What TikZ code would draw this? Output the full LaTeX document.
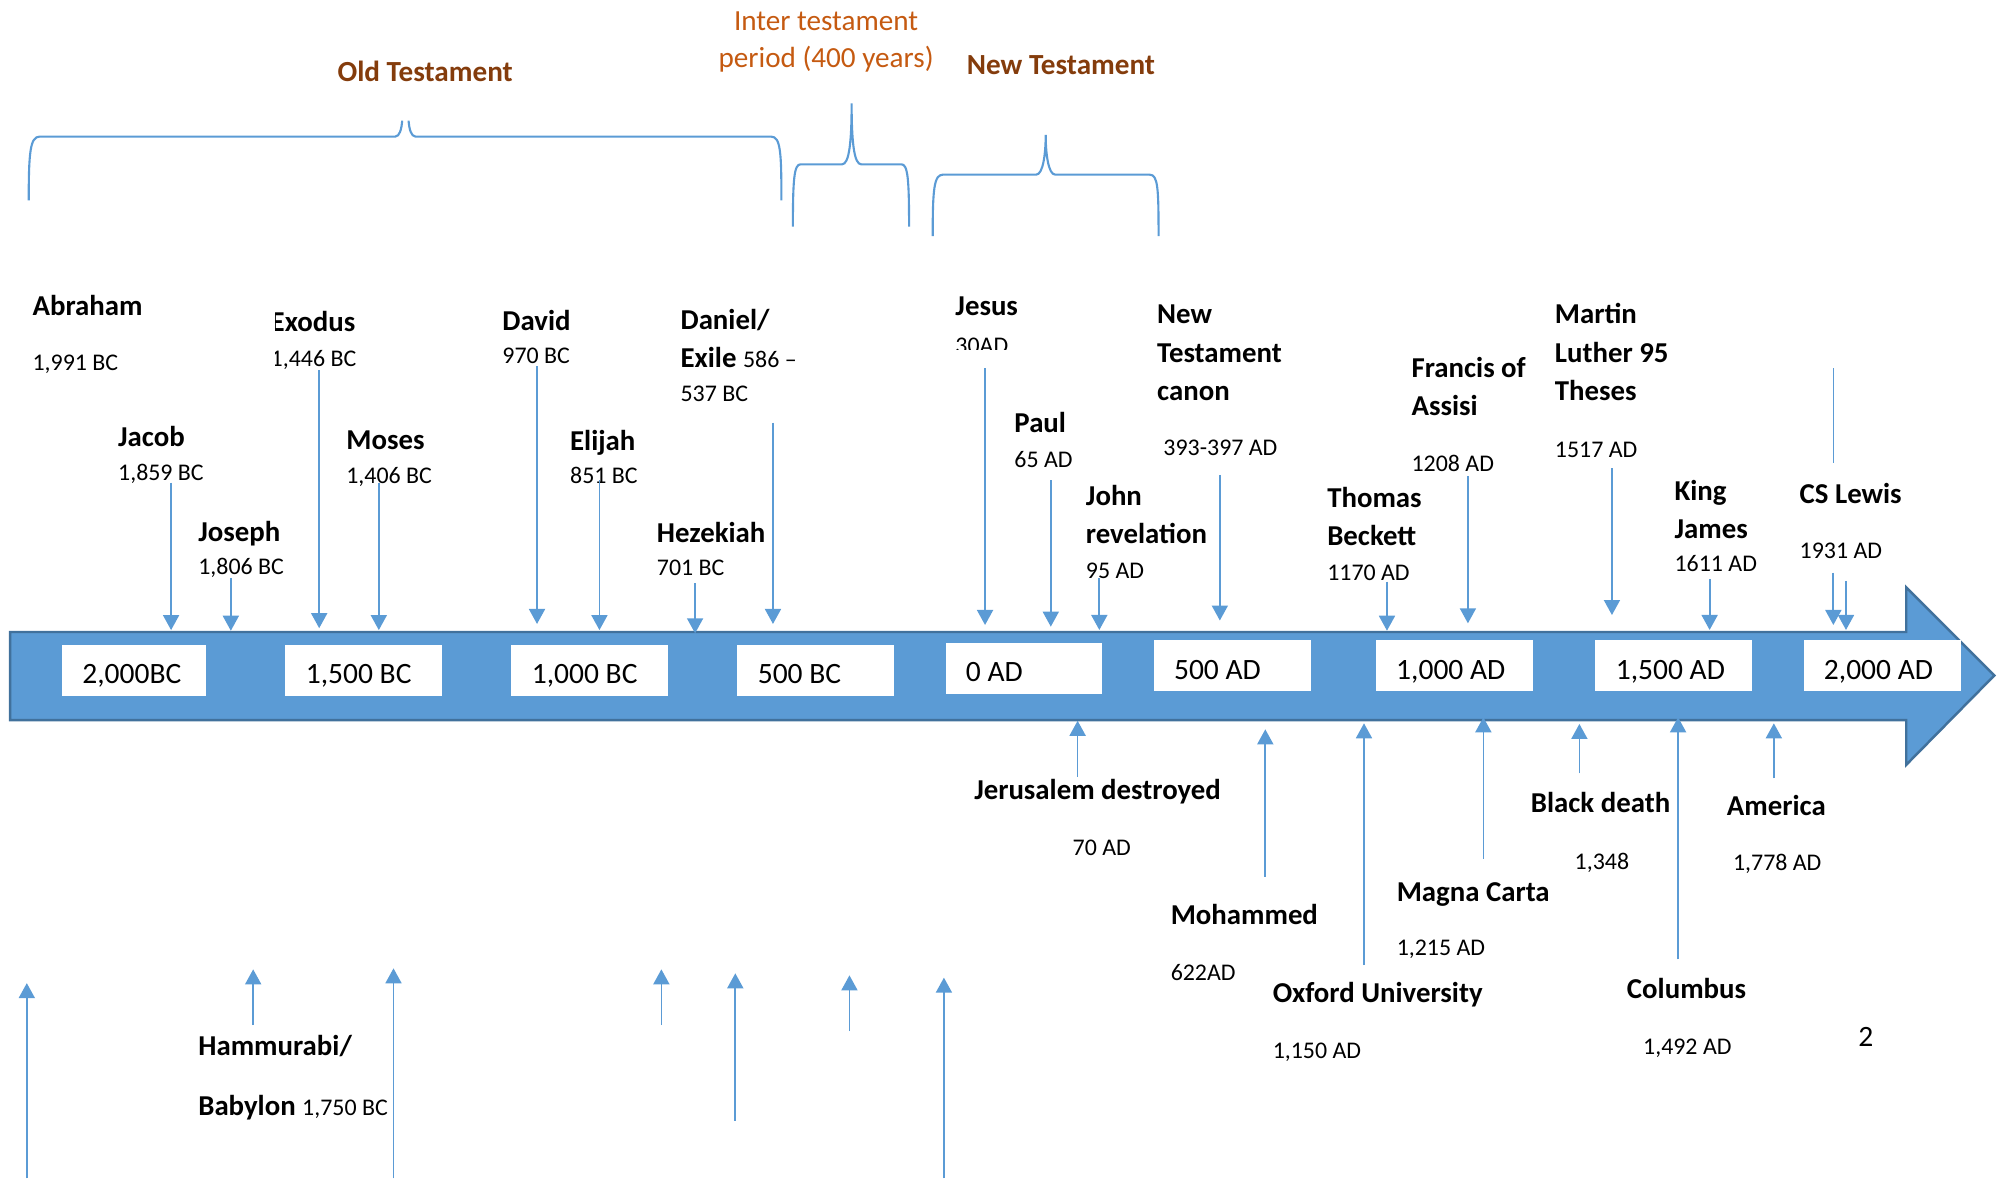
\documentclass[tikz,border=0pt]{standalone}
\usepackage{fontspec}
\setmainfont{Carlito}
\usepackage{tikz}
\usetikzlibrary{arrows.meta}
\usepackage{xcolor}
\definecolor{ColBar}{RGB}{91,155,213}
\definecolor{ColBarEdge}{RGB}{65,113,156}
\definecolor{ColOld}{RGB}{132,60,12}
\definecolor{ColInter}{RGB}{197,90,17}
\newcommand{\SmallDate}{\fontsize{6.8}{9}\selectfont\mdseries}
\tikzstyle{NodeName}=[anchor=base west,inner sep=0pt,text width=3cm,align=flush left,
font=\fontsize{8.2}{10.9}\selectfont\bfseries]
\tikzstyle{NodeDate}=[anchor=base west,inner sep=0pt,font=\fontsize{6.8}{9}\selectfont]
\tikzstyle{NodeYear}=[anchor=north west,fill=white,inner xsep=0.204cm,inner ysep=0pt,
minimum height=0.511cm,text width=1.162cm,align=flush left,text height=7.6pt,text depth=0pt,
font=\fontsize{8.4}{10}\selectfont]
\tikzstyle{NodeTitle}=[anchor=base,inner sep=0pt,text=ColOld,font=\fontsize{8.3}{10}\selectfont\bfseries]
\tikzstyle{EdgeArrow}=[ColBar,line width=0.5pt,-{Triangle[length=1.5mm,width=1.6mm]}]
\tikzstyle{EdgeLine}=[ColBar,line width=0.5pt]
\tikzstyle{EdgeBrace}=[ColBar,line width=0.6pt]
\begin{document}
\begin{tikzpicture}[x=0.012768cm,y=-0.012768cm]
        \useasboundingbox(0,0)rectangle(1568,923);
        % headings and braces
        \node[NodeTitle](oldt)at(333,64){Old Testament};
        \node[NodeTitle](newt)at(831,58.7){New Testament};
        \node[anchor=base,inner sep=0pt,text width=3cm,align=flush center,text=ColInter,
            font=\fontsize{8.3}{10.6}\selectfont](inter)at(647,23.5){Inter testament\\period (400 years)};
        \draw[EdgeBrace](22.5,157)..controls(22.5,120)and(23.5,107)..(31,107)--(309.5,107)
            ..controls(313,107)and(314.5,101)..(315,94.5);
        \draw[EdgeBrace](320,94.5)..controls(320.5,101)and(322,107)..(325.5,107)--(604,107)
            ..controls(611.5,107)and(612,120)..(612,157);
        \draw[EdgeBrace](621,177.5)..controls(621,140)and(622,128.7)..(627,128.7)--(659.5,128.7)
            ..controls(665,128.7)and(667,112)..(667,81)..controls(667,112)and(669,128.7)..(674.5,128.7)
            --(706,128.7)..controls(711,128.7)and(712,140)..(712,177.5);
        \draw[EdgeBrace](730.5,185)..controls(730.5,148)and(731.5,136.8)..(738.5,136.8)--(811.5,136.8)
            ..controls(817,136.8)and(819,120)..(819,105.7)..controls(819,120)and(821,136.8)..(826.5,136.8)
            --(900.5,136.8)..controls(907,136.8)and(907.4,148)..(907.4,185);
        % timeline bar
        \draw[ColBarEdge,line width=0.7pt,fill=ColBar](8,495)--(1493,495)--(1493,460)--(1562,529)
            --(1493,599)--(1493,564)--(8,564)--cycle;
        \node[NodeYear,text width=1.035cm](y2000bc)at(48,504.4){2,000BC};
        \node[NodeYear](y1500bc)at(223,504.4){1,500 BC};
        \node[NodeYear](y1000bc)at(400,504.4){1,000 BC};
        \node[NodeYear](y500bc)at(577,504.4){500 BC};
        \node[NodeYear](y0ad)at(740,503){0 AD};
        \node[NodeYear](y500ad)at(903,501){500 AD};
        \node[NodeYear](y1000ad)at(1077,501){1,000 AD};
        \node[NodeYear](y1500ad)at(1249,501){1,500 AD};
        \node[NodeYear](y2000ad)at(1412,501){2,000 AD};
        % events above
        \node[NodeName](abraham)at(25,247){Abraham};
        \node[NodeDate](abrahamd)at(25,290){1,991 BC};
        \begin{scope}
            \clip(215.5,235)rectangle(320,296);
            \node[NodeName](exodus)at(211.5,260){Exodus};
            \node[NodeDate](exodusd)at(211.5,287){1,446 BC};
        \end{scope}
        \node[NodeName](david)at(393,258.5){David};
        \node[NodeDate](davidd)at(393,285){970 BC};
        \node[NodeName](daniel)at(532.5,258){Daniel/\\Exile {\SmallDate 586 –}\\[-1.3pt]{\SmallDate 537 BC}};
        \node[NodeName](jesus)at(747.8,247){Jesus};
        \begin{scope}
            \clip(740,255)rectangle(800,274);
            \node[NodeDate](jesusd)at(747.8,277){30AD};
        \end{scope}
        \node[NodeName](jacob)at(92,350){Jacob};
        \node[NodeDate](jacobd)at(92,376.6){1,859 BC};
        \node[NodeName](moses)at(270.7,352){Moses};
        \node[NodeDate](mosesd)at(270.7,379){1,406 BC};
        \node[NodeName](elijah)at(446,353){Elijah};
        \node[NodeDate](elijahd)at(446,379){851 BC};
        \node[NodeName](joseph)at(154.8,424){Joseph};
        \node[NodeDate](josephd)at(154.8,450){1,806 BC};
        \node[NodeName](hezekiah)at(514,425){Hezekiah};
        \node[NodeDate](hezekiahd)at(514,451){701 BC};
        \node[NodeName](paul)at(794,338.4){Paul};
        \node[NodeDate](pauld)at(794,366){65 AD};
        \node[NodeName](john)at(850,396){John\\revelation};
        \node[NodeDate](johnd)at(850,453){95 AD};
        \node[NodeName](canon)at(905.8,253.7){New\\Testament\\canon};
        \node[NodeDate](canond)at(910.7,356.6){393-397 AD};
        \node[NodeName](francis)at(1105,295.5){Francis of\\Assisi};
        \node[NodeDate](francisd)at(1105,369.5){1208 AD};
        \node[NodeName](martin)at(1217.3,253.7){Martin\\Luther 95\\Theses};
        \node[NodeDate](martind)at(1217.3,358){1517 AD};
        \node[NodeName](thomas)at(1039,397.3){Thomas\\Beckett};
        \node[NodeDate](thomasd)at(1039,454.5){1170 AD};
        \node[NodeName](king)at(1311,392){King\\James};
        \node[NodeDate](kingd)at(1311,447.7){1611 AD};
        \node[NodeName](lewis)at(1409,394){CS Lewis};
        \node[NodeDate](lewisd)at(1409,437.6){1931 AD};
        % events below
        \node[NodeName](jerusalem)at(762.5,626.3){Jerusalem destroyed};
        \node[NodeDate](jerusalemd)at(839.6,670.4){70 AD};
        \node[NodeName](mohammed)at(916.4,724.4){Mohammed};
        \node[NodeDate](mohammedd)at(916.4,767.8){622AD};
        \node[NodeName](oxford)at(996.3,785.5){Oxford University};
        \node[NodeDate](oxfordd)at(996.3,828.9){1,150 AD};
        \node[NodeName](magna)at(1093.4,705.9){Magna Carta};
        \node[NodeDate](magnad)at(1093.4,748.7){1,215 AD};
        \node[NodeName](black)at(1198.5,636.7){Black death};
        \node[NodeDate](blackd)at(1232.8,680.9){1,348};
        \node[NodeName](columbus)at(1273.7,782.4){Columbus};
        \node[NodeDate](columbusd)at(1286.4,825.8){1,492 AD};
        \node[NodeName](america)at(1352,638.8){America};
        \node[NodeDate](americad)at(1356.8,681.7){1,778 AD};
        \node[NodeName](hammurabi)at(154.8,826.8){Hammurabi/\\[6.2pt]Babylon {\SmallDate 1,750 BC}};
        \node[anchor=base west,inner sep=0pt,font=\fontsize{8.4}{10}\selectfont](pagenum)at(1455,820){2};
        % arrows down
        \coordinate(jacobA)at(134,378);\coordinate(jacobB)at(134,493.5);\draw[EdgeArrow](jacobA)--(jacobB);
        \coordinate(josephA)at(180.8,452.8);\coordinate(josephB)at(180.8,494);\draw[EdgeArrow](josephA)--(josephB);
        \coordinate(exodusA)at(250,290);\coordinate(exodusB)at(250,492);\draw[EdgeArrow](exodusA)--(exodusB);
        \coordinate(mosesA)at(296.7,378);\coordinate(mosesB)at(296.7,493.5);\draw[EdgeArrow](mosesA)--(mosesB);
        \coordinate(davidA)at(420.6,287);\coordinate(davidB)at(420.6,488.7);\draw[EdgeArrow](davidA)--(davidB);
        \coordinate(elijahA)at(469.5,376);\coordinate(elijahB)at(469.5,493.5);\draw[EdgeArrow](elijahA)--(elijahB);
        \coordinate(hezekiahA)at(544.4,456.8);\coordinate(hezekiahB)at(544.4,496);\draw[EdgeArrow](hezekiahA)--(hezekiahB);
        \coordinate(danielA)at(605.4,331);\coordinate(danielB)at(605.4,488.7);\draw[EdgeArrow](danielA)--(danielB);
        \coordinate(jesusA)at(771.5,288.3);\coordinate(jesusB)at(771.5,489.5);\draw[EdgeArrow](jesusA)--(jesusB);
        \coordinate(paulA)at(823,376);\coordinate(paulB)at(823,490.8);\draw[EdgeArrow](paulA)--(paulB);
        \coordinate(johnA)at(861,452.7);\coordinate(johnB)at(861,493.4);\draw[EdgeArrow](johnA)--(johnB);
        \coordinate(canonA)at(955.4,372);\coordinate(canonB)at(955.4,486);\draw[EdgeArrow](canonA)--(canonB);
        \coordinate(thomasA)at(1086.3,455.6);\coordinate(thomasB)at(1086.3,494);\draw[EdgeArrow](thomasA)--(thomasB);
        \coordinate(francisA)at(1149.7,373);\coordinate(francisB)at(1149.7,488.2);\draw[EdgeArrow](francisA)--(francisB);
        \coordinate(martinA)at(1262.5,366.8);\coordinate(martinB)at(1262.5,481.7);\draw[EdgeArrow](martinA)--(martinB);
        \coordinate(kingA)at(1339,453.7);\coordinate(kingB)at(1339,493.4);\draw[EdgeArrow](kingA)--(kingB);
        \coordinate(lewisA)at(1435.9,448.5);\coordinate(lewisB)at(1435.9,489.5);\draw[EdgeArrow](lewisA)--(lewisB);
        \coordinate(lewisC)at(1445.8,455);\coordinate(lewisD)at(1445.8,493.4);\draw[EdgeArrow](lewisC)--(lewisD);
        \coordinate(lewisE)at(1436,288.5);\coordinate(lewisF)at(1436,362.9);\draw[EdgeLine](lewisE)--(lewisF);
        % arrows up
        \coordinate(jerusalemA)at(844,608.3);\coordinate(jerusalemB)at(844,564.5);\draw[EdgeArrow](jerusalemA)--(jerusalemB);
        \coordinate(mohammedA)at(991,686.6);\coordinate(mohammedB)at(991,571.2);\draw[EdgeArrow](mohammedA)--(mohammedB);
        \coordinate(oxfordA)at(1068.3,755.8);\coordinate(oxfordB)at(1068.3,566.5);\draw[EdgeArrow](oxfordA)--(oxfordB);
        \coordinate(magnaA)at(1161.8,672.5);\coordinate(magnaB)at(1161.8,561.8);\draw[EdgeArrow](magnaA)--(magnaB);
        \coordinate(blackA)at(1237,605.7);\coordinate(blackB)at(1237,567);\draw[EdgeArrow](blackA)--(blackB);
        \coordinate(columbusA)at(1314.3,751.4);\coordinate(columbusB)at(1314.3,561.8);\draw[EdgeArrow](columbusA)--(columbusB);
        \coordinate(americaA)at(1389.3,609.6);\coordinate(americaB)at(1389.3,566.5);\draw[EdgeArrow](americaA)--(americaB);
        \coordinate(upaA)at(21,923);\coordinate(upaB)at(21,770);\draw[EdgeArrow](upaA)--(upaB);
        \coordinate(hammurabiA)at(198.3,802.8);\coordinate(hammurabiB)at(198.3,759.2);\draw[EdgeArrow](hammurabiA)--(hammurabiB);
        \coordinate(upcA)at(308.2,923);\coordinate(upcB)at(308.2,758.4);\draw[EdgeArrow](upcA)--(upcB);
        \coordinate(updA)at(518,802.8);\coordinate(updB)at(518,759.2);\draw[EdgeArrow](updA)--(updB);
        \coordinate(upeA)at(575.9,877.7);\coordinate(upeB)at(575.9,762.3);\draw[EdgeArrow](upeA)--(upeB);
        \coordinate(upfA)at(665.3,807.5);\coordinate(upfB)at(665.3,763.9);\draw[EdgeArrow](upfA)--(upfB);
        \coordinate(upgA)at(739.3,923);\coordinate(upgB)at(739.3,765.7);\draw[EdgeArrow](upgA)--(upgB);
    \end{tikzpicture}
\end{document}
